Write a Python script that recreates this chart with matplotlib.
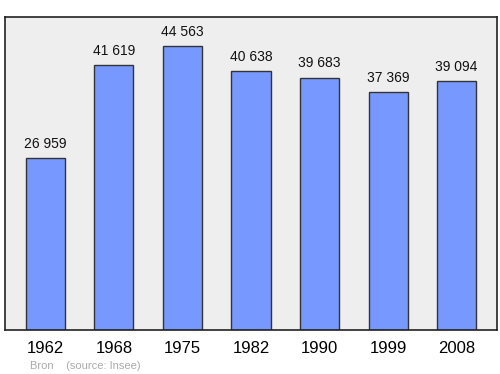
import matplotlib
matplotlib.use('Agg')
import matplotlib.pyplot as plt

plt.rcParams['font.family'] = ['Liberation Sans', 'DejaVu Sans']

annees = ['1962', '1968', '1975', '1982', '1990', '1999', '2008']
population = [26959, 41619, 44563, 40638, 39683, 37369, 39094]


def format_pop(n):
    return '{:,}'.format(n).replace(',', ' ')


fig = plt.figure(figsize=(5, 3.74), dpi=100)
ax = fig.add_axes([0.01, 0.1176, 0.984, 0.837])
ax.set_facecolor('#eeeeee')

x = range(len(annees))
ax.bar(x, population, width=0.57, color='#7799ff', edgecolor='#333333', linewidth=1)
for i, p in zip(x, population):
    ax.text(i, p + 1200, format_pop(p), ha='center', va='bottom', fontsize=10, color='#111111')

ax.set_xlim(-0.59, 6.59)
ax.set_ylim(0, 49200)
ax.set_yticks([])
ax.set_xticks(list(x))
ax.set_xticklabels(annees, fontsize=12)
ax.tick_params(axis='x', length=0, pad=8)
for s in ax.spines.values():
    s.set_color('#222222')
    s.set_linewidth(1.2)

fig.text(0.06, 0.013, 'Bron    (source: Insee)', fontsize=8, color='#aaaaaa')

fig.savefig('out.png', dpi=100)
